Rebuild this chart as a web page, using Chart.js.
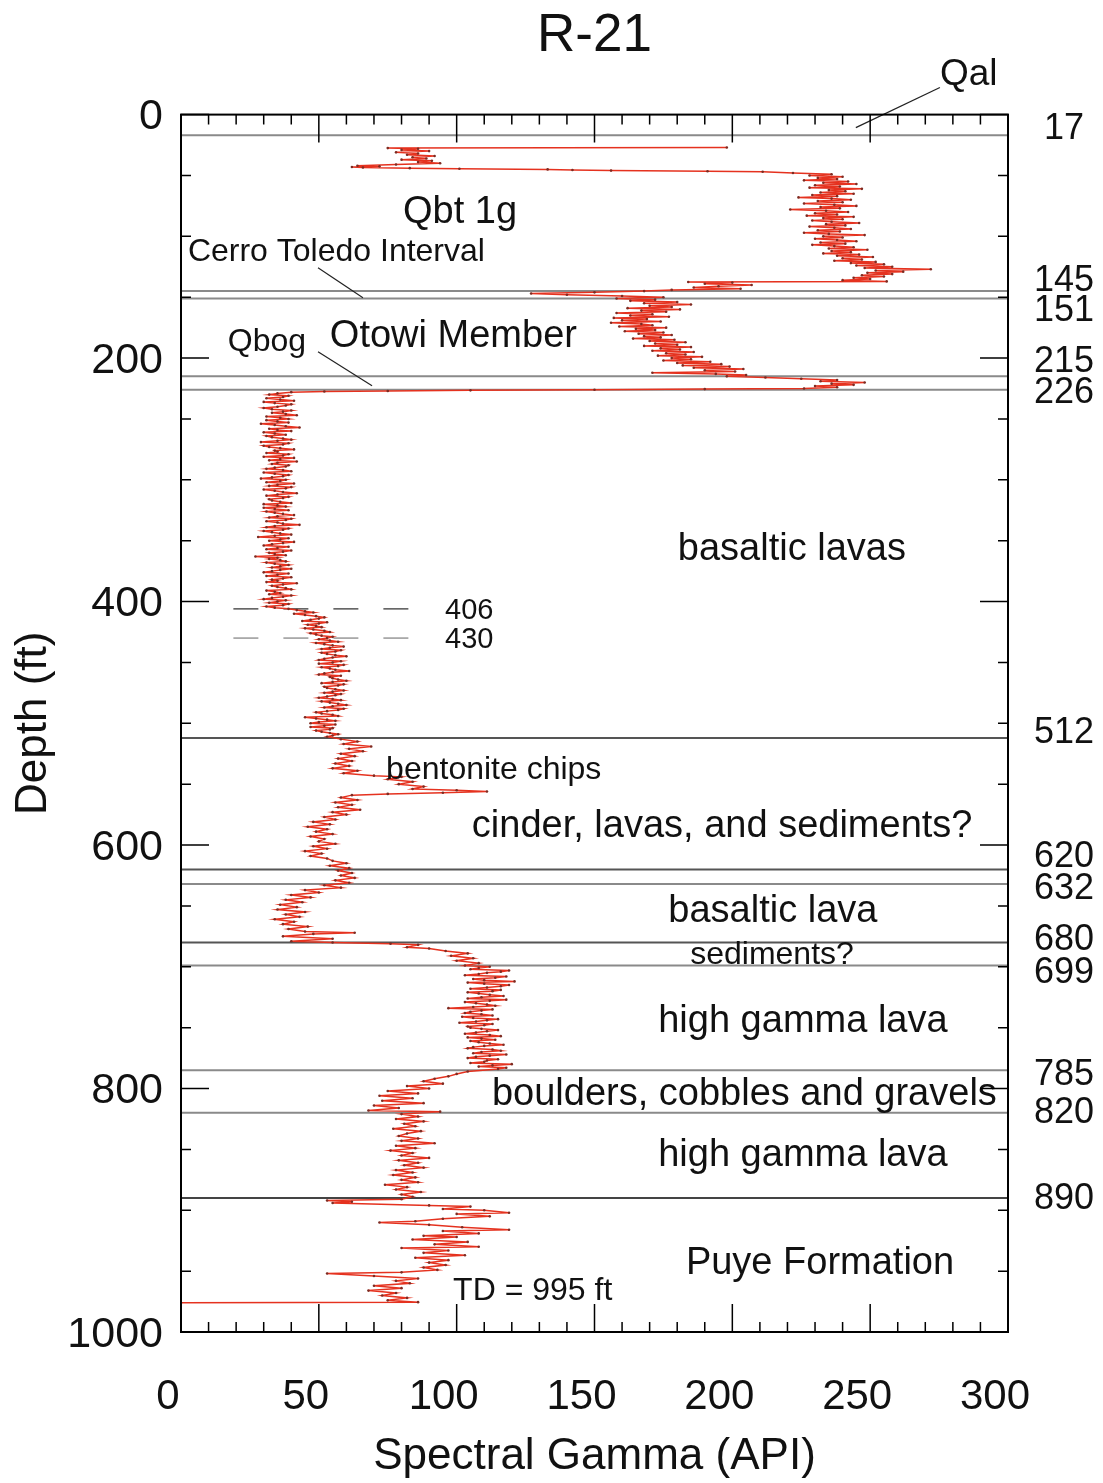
<!DOCTYPE html>
<html>
<head>
<meta charset="utf-8">
<title>R-21</title>
<script src="https://cdn.jsdelivr.net/npm/chart.js@4.4.1/dist/chart.umd.min.js"></script>
<style>
  html, body { margin: 0; padding: 0; background: #ffffff; }
  #wrap { width: 1103px; height: 1483px; }
</style>
</head>
<body>
<div id="wrap"><canvas id="log" width="1103" height="1483"></canvas></div>
<script>
// R-21 spectral gamma log, [depth ft, gamma API]

var logQbtTop = [[27,198],[27.5,75],[28,86],[29,80],[30,90],[31,78],[32,86],[33,82],[34,92],[35,84],
    [36,89],[37,80],[38,91],[39,86],[40,94],[41,78],[42,64],[42.5,72],[43,62],[43.5,66],[44,83],
    [44.5,101],[45,133],[45.5,142],[46,156],[46.5,191],[47,211],[48,222]];

var logQbt1g = [[49,236],[50,228],[51,240],[52,231],[53,238],[54,226],[55,242],[56,233],[57,245],
    [58,230],[59,239],[60,228],[61,247],[62,235],[63,241],[64,232],[65,244],[66,229],[67,238],
    [68,224],[69,236],[70,243],[71,231],[72,240],[73,226],[74,237],[75,245],[76,232],[77,239],
    [78,221],[79,234],[80,242],[81,230],[82,238],[83,227],[84,244],[85,233],[86,240],[87,229],
    [88,236],[89,246],[90,234],[91,241],[92,228],[93,237],[94,243],[95,231],[96,239],[97,226],
    [98,235],[99,248],[100,233],[101,240],[102,230],[103,238],[104,245],[105,232],[106,241],
    [107,229],[108,237],[109,244],[110,235],[111,249],[112,236],[113,243],[114,233],[115,246],
    [116,238],[117,251],[118,240],[119,247],[120,237],[121,252],[122,243],[123,255],[124,245],
    [125,258],[126,248],[127,272],[128,252],[129,262],[130,249],[131,258],[132,247],[133,255],
    [134,244],[135,250],[136,240],[137,256]];

var logCerroToledo = [[137.5,184],[138,200],[139,190],[140,207],[141,195],[142,186],[143,203],
    [144,178],[145,168],[146,150],[147,127],[148,140],[149,160],[150,175],[151,158]];

var logOtowi = [[152,172],[153,163],[154,180],[155,168],[156,185],[157,170],[158,178],[159,162],
    [160,181],[161,167],[162,176],[163,158],[164,171],[165,163],[166,177],[167,157],[168,169],
    [169,160],[170,174],[171,156],[172,167],[173,171],[174,159],[175,176],[176,165],[177,172],
    [178,161],[179,175],[180,166],[181,178],[182,168],[183,174],[184,164],[185,179],[186,170],
    [187,183],[188,172],[189,180],[190,168],[191,185],[192,174],[193,181],[194,171],[195,186],
    [196,176],[197,183],[198,173],[199,189],[200,178],[201,185],[202,175],[203,192],[204,180],
    [205,196],[206,182],[207,199],[208,186],[209,204],[210,190],[211,201],[212,171],[213,194],
    [214,205],[215,198],[216,212],[217,225],[218,238],[219,232],[220,248],[221,236],[222,244],
    [223,230],[224,238],[225,226],[225.5,190],[226,150],[226.5,105],[227,75],[227.5,52],[228,40]];

var logBasalticLavas = [[229,35],[230,32],[231,39],[232,37],[233,31],[234,36],[235,41],[236,30],
    [237,34],[238,40],[239,38],[240,35],[241,30],[242,33],[243,40],[244,37],[245,33],[246,38],
    [247,42],[248,31],[249,36],[250,39],[251,31],[252,35],[253,39],[254,29],[255,34],[256,38],
    [257,43],[258,32],[259,35],[260,40],[261,30],[262,34],[263,38],[264,31],[265,33],[266,37],
    [267,40],[268,35],[269,29],[270,39],[271,37],[272,30],[273,32],[274,36],[275,41],[276,34],
    [277,35],[278,31],[279,39],[280,37],[281,30],[282,41],[283,36],[284,32],[285,42],[286,35],
    [287,33],[288,39],[289,38],[290,34],[291,31],[292,37],[293,40],[294,30],[295,34],[296,39],
    [297,37],[298,33],[299,29],[300,38],[301,36],[302,31],[303,41],[304,35],[305,32],[306,40],
    [307,38],[308,30],[309,34],[310,37],[311,42],[312,35],[313,31],[314,39],[315,37],[316,32],
    [317,33],[318,36],[319,40],[320,30],[321,35],[322,38],[323,30],[324,34],[325,39],[326,31],
    [327,34],[328,37],[329,41],[330,35],[331,32],[332,40],[333,38],[334,31],[335,35],[336,37],
    [337,43],[338,34],[339,31],[340,39],[341,37],[342,30],[343,33],[344,36],[345,40],[346,34],
    [347,28],[348,39],[349,36],[350,32],[351,41],[352,37],[353,33],[354,30],[355,39],[356,35],
    [357,31],[358,40],[359,37],[360,32],[361,34],[362,38],[363,27],[364,35],[365,32],[366,36],
    [367,38],[368,31],[369,34],[370,39],[371,36],[372,33],[373,40],[374,36],[375,33],[376,30],
    [377,39],[378,35],[379,31],[380,40],[381,37],[382,33],[383,35],[384,31],[385,42],[386,37],
    [387,33],[388,35],[389,38],[390,40],[391,31],[392,34],[393,36],[394,32],[395,40],[396,37],
    [397,33],[398,30],[399,38],[400,35],[401,32],[402,39],[403,37],[404,31],[405,34],[406,39]];

var logLowerLavas = [[407,42],[408,45],[409,48],[410,41],[411,45],[412,49],[413,52],[414,50],
    [415,47],[416,44],[417,53],[418,50],[419,46],[420,49],[421,51],[422,45],[423,48],[424,52],
    [425,54],[426,47],[427,49],[428,51],[429,55],[430,53],[431,50],[432,54],[433,57],[434,49],
    [435,52],[436,55],[437,59],[438,54],[439,51],[440,58],[441,56],[442,51],[443,53],[444,56],
    [445,60],[446,55],[447,52],[448,50],[449,58],[450,55],[451,50],[452,59],[453,57],[454,51],
    [455,54],[456,56],[457,61],[458,55],[459,52],[460,50],[461,58],[462,54],[463,55],[464,57],
    [465,60],[466,55],[467,51],[468,59],[469,57],[470,52],[471,53],[472,56],[473,59],[474,55],
    [475,52],[476,58],[477,56],[478,53],[479,50],[480,55],[481,58],[482,51],[483,54],[484,57],
    [485,60],[486,55],[487,52],[488,59],[489,57],[490,53],[491,49],[492,51],[493,55],[494,57],
    [495,45],[496,49],[497,53],[498,56],[499,50],[500,47],[501,56],[502,52],[503,47],[504,55],
    [505,54],[506,49],[507,51],[508,54],[509,57],[510,55],[511,53]];

var logCinder = [[513,58],[515,64],[517,59],[519,69],[521,61],[523,66],[525,58],[527,63],[529,57],
    [531,62],[533,56],[535,61],[537,55],[539,64],[541,59],[543,70],[544,80],[546,75],[548,84],
    [550,79],[552,88],[554,84],[555,100],[556,111],[557,95],[558,75],[559,62],[561,58],[563,64],
    [565,56],[567,62],[569,57],[571,65],[573,55],[575,60],[577,52],[579,56],[581,48],[583,54],
    [585,46],[587,53],[589,49],[591,55],[593,47],[595,52],[597,50],[599,56],[601,48],[603,53],
    [605,45],[607,51],[609,47],[611,53],[613,55],[615,60],[617,54],[619,61],[621,57],[623,62],
    [625,58],[627,63],[629,56],[631,61]];

var logBasalticLava = [[633,52],[635,58],[637,45],[639,50],[641,40],[643,47],[645,38],[647,44],
    [649,36],[651,42],[653,35],[655,45],[657,38],[659,43],[661,34],[663,41],[665,37],[667,46],
    [669,39],[671,45],[672,63],[673,48],[675,37],[677,55],[679,40],[680,55],[681,76],[682,86],
    [684,82],[685,90],[687,96],[689,104],[691,98],[693,106],[695,100],[697,108],[699,103]];

var logHighGamma1 = [[700,112],[701,108],[702,105],[703,119],[704,116],[705,111],[706,108],
    [707,103],[708,118],[709,114],[710,106],[711,110],[712,121],[713,104],[714,110],[715,119],
    [716,116],[717,111],[718,105],[719,116],[720,113],[721,104],[722,108],[723,112],[724,117],
    [725,109],[726,104],[727,118],[728,112],[729,103],[730,107],[731,111],[732,114],[733,106],
    [734,97],[735,113],[736,109],[737,105],[738,103],[739,109],[740,113],[741,102],[742,106],
    [743,115],[744,111],[745,107],[746,101],[747,113],[748,110],[749,104],[750,105],[751,109],
    [752,115],[753,111],[754,107],[755,103],[756,112],[757,116],[758,104],[759,109],[760,114],
    [761,105],[762,108],[763,112],[764,117],[765,110],[766,106],[767,104],[768,113],[769,116],
    [770,109],[771,106],[772,118],[773,112],[774,107],[775,104],[776,115],[777,111],[778,110],
    [779,105],[780,120],[781,113],[782,108],[783,118],[784,115]];

var logBoulders = [[786,104],[788,100],[790,97],[792,92],[794,88],[796,95],[798,82],[800,90],
    [802,75],[804,86],[806,72],[808,84],[810,73],[812,88],[814,70],[816,79],[818,68],[819,94]];

var logHighGamma2 = [[821,80],[823,86],[825,78],[827,88],[829,81],[831,85],[833,77],[835,87],
    [837,82],[839,79],[841,86],[843,80],[845,92],[847,78],[849,85],[851,76],[853,84],[855,80],
    [857,90],[859,79],[861,86],[863,81],[865,88],[867,78],[869,84],[871,77],[873,85],[875,80],
    [877,86],[879,74],[881,82],[883,78],[885,87],[887,80],[889,84]];

var logPuye = [[891,80],[892,53],[893,62],[894,55],[896,90],[897,105],[899,95],[900,110],[902,119],
    [903,100],[905,112],[907,95],[909,85],[910,72],[912,90],[914,102],[916,119],[917,95],[919,108],
    [921,88],[922,100],[924,84],[926,104],[928,92],[930,108],[931,80],[933,97],[935,88],[937,103],
    [939,85],[941,97],[943,90],[945,96],[947,88],[949,93],[951,80],[952,53],[954,70],[956,86],
    [958,78],[960,83],[962,70],[964,80],[966,68],[968,78],[970,73],[972,82],[974,75],[975.5,86],
    [976,0]];

// contacts (ft) and where their numbers sit on the right
var contactDepths = [17, 145, 151, 215, 226, 512, 620, 632, 680, 699, 785, 820, 890];
var contactLabelDepths = [12, 136.5, 161, 203, 229, 508, 610, 636, 678, 705, 789, 820, 891];
var contactShades = ['#8a8a8a', '#8a8a8a', '#8a8a8a', '#8a8a8a', '#8a8a8a', '#555555', '#555555',
    '#8a8a8a', '#555555', '#8a8a8a', '#8a8a8a', '#8a8a8a', '#444444'];
var markerDepths = [406, 430];
var markerShades = ['#555555', '#999999'];

var FONT = "'Liberation Sans', Arial, Helvetica, sans-serif";

var allLog = [].concat(logQbtTop, logQbt1g, logCerroToledo, logOtowi, logBasalticLavas, logLowerLavas,
    logCinder, logBasalticLava, logHighGamma1, logBoulders, logHighGamma2, logPuye);
var points = allLog.map(function (p) { return { x: p[1], y: p[0] }; });

// text notes, placed in data units [API, depth]
var notes = [
    { t: 'Qal', x: 275.3, y: -32.9, s: 37, a: 'left' },
    { t: 'Qbt 1g', x: 101.2, y: 80.6, s: 38, a: 'center' },
    { t: 'Cerro Toledo Interval', x: 2.5, y: 113.4, s: 32, a: 'left' },
    { t: 'Qbog', x: 17, y: 186.6, s: 32, a: 'left' },
    { t: 'Otowi Member', x: 54, y: 182.5, s: 38, a: 'left' },
    { t: 'basaltic lavas', x: 221.6, y: 357.6, s: 38, a: 'center' },
    { t: '406', x: 95.8, y: 407.7, s: 29, a: 'left' },
    { t: '430', x: 95.8, y: 431.6, s: 29, a: 'left' },
    { t: 'bentonite chips', x: 74.4, y: 538.4, s: 32, a: 'left' },
    { t: 'cinder, lavas, and sediments?', x: 105.5, y: 584.5, s: 38, a: 'left' },
    { t: 'basaltic lava', x: 214.7, y: 654.3, s: 38, a: 'center' },
    { t: 'sediments?', x: 214.4, y: 690.5, s: 32, a: 'center' },
    { t: 'high gamma lava', x: 225.6, y: 744.8, s: 38, a: 'center' },
    { t: 'boulders, cobbles and gravels', x: 112.8, y: 804.8, s: 38, a: 'left' },
    { t: 'high gamma lava', x: 225.6, y: 854.9, s: 38, a: 'center' },
    { t: 'Puye Formation', x: 231.8, y: 943.7, s: 38, a: 'center' },
    { t: 'TD = 995 ft', x: 98.7, y: 966.7, s: 32, a: 'left' }
];
var leaders = [
    [275.3, -22.2, 244.8, 10.7],
    [49.7, 125.8, 66.0, 150.4],
    [49.7, 194.8, 69.3, 222.7]
];

var logDecor = {
    id: 'logDecor',
    beforeDatasetsDraw: function (chart) {
        var ctx = chart.ctx, a = chart.chartArea, y = chart.scales.y, x = chart.scales.x;
        ctx.save();
        ctx.lineWidth = 2;
        for (var i = 0; i < contactDepths.length; i++) {
            var yy = y.getPixelForValue(contactDepths[i]);
            ctx.strokeStyle = contactShades[i];
            ctx.beginPath();
            ctx.moveTo(a.left, yy);
            ctx.lineTo(a.right, yy);
            ctx.stroke();
        }
        ctx.setLineDash([25, 25]);
        ctx.lineWidth = 1.5;
        for (var j = 0; j < markerDepths.length; j++) {
            var ym = y.getPixelForValue(markerDepths[j]);
            ctx.strokeStyle = markerShades[j];
            ctx.beginPath();
            ctx.moveTo(x.getPixelForValue(19), ym);
            ctx.lineTo(x.getPixelForValue(85), ym);
            ctx.stroke();
        }
        ctx.restore();
    },
    afterDatasetsDraw: function (chart) {
        var ctx = chart.ctx, a = chart.chartArea, x = chart.scales.x, y = chart.scales.y;
        ctx.save();
        ctx.fillStyle = '#111111';
        ctx.textBaseline = 'middle';
        notes.forEach(function (n) {
            ctx.font = n.s + 'px ' + FONT;
            ctx.textAlign = n.a;
            ctx.fillText(n.t, x.getPixelForValue(n.x), y.getPixelForValue(n.y));
        });
        ctx.strokeStyle = '#222222';
        ctx.lineWidth = 1.2;
        leaders.forEach(function (l) {
            ctx.beginPath();
            ctx.moveTo(x.getPixelForValue(l[0]), y.getPixelForValue(l[1]));
            ctx.lineTo(x.getPixelForValue(l[2]), y.getPixelForValue(l[3]));
            ctx.stroke();
        });
        // contact depths at the right edge
        ctx.font = '36px ' + FONT;
        ctx.textAlign = 'center';
        for (var i = 0; i < contactDepths.length; i++) {
            ctx.fillText(String(contactDepths[i]), a.right + 56, y.getPixelForValue(contactLabelDepths[i]));
        }

        // frame with inward ticks on all four sides
        ctx.strokeStyle = '#000000';
        ctx.lineWidth = 2;
        ctx.strokeRect(a.left, a.top, a.right - a.left, a.bottom - a.top);
        ctx.lineWidth = 1.5;
        ctx.beginPath();
        for (var g = 0; g <= 300; g += 10) {
            var px = x.getPixelForValue(g);
            var len = g % 50 === 0 ? 28 : 10;
            ctx.moveTo(px, a.bottom); ctx.lineTo(px, a.bottom - len);
            ctx.moveTo(px, a.top); ctx.lineTo(px, a.top + len);
        }
        for (var d = 0; d <= 1000; d += 50) {
            var py = y.getPixelForValue(d);
            var ln = d % 200 === 0 ? 28 : 10;
            ctx.moveTo(a.left, py); ctx.lineTo(a.left + ln, py);
            ctx.moveTo(a.right, py); ctx.lineTo(a.right - ln, py);
        }
        ctx.stroke();
        ctx.restore();
    }
};

new Chart(document.getElementById('log').getContext('2d'), {
    type: 'scatter',
    data: {
        datasets: [{
            label: 'Spectral Gamma',
            data: points,
            showLine: true,
            borderColor: '#e5321f',
            borderWidth: 1.5,
            pointRadius: 1.3,
            pointBackgroundColor: '#7d2b22',
            pointBorderWidth: 0,
            tension: 0
        }]
    },
    plugins: [logDecor],
    options: {
        responsive: false,
        animation: false,
        devicePixelRatio: 1,
        layout: { padding: { top: 0, right: 95, left: 0, bottom: 0 } },
        plugins: {
            legend: { display: false },
            tooltip: { enabled: false },
            title: {
                display: true,
                fullSize: false,
                text: 'R-21',
                color: '#111111',
                font: { size: 53, family: FONT, weight: 'normal', lineHeight: 1.2 },
                padding: { top: 5, bottom: 46 }
            }
        },
        scales: {
            x: {
                type: 'linear',
                position: 'bottom',
                min: 0,
                max: 300,
                ticks: {
                    stepSize: 50,
                    color: '#111111',
                    font: { size: 42, family: FONT },
                    padding: 40,
                    labelOffset: -13,
                    maxRotation: 0,
                    callback: function (v) { return String(v); }
                },
                grid: { display: false, drawTicks: false },
                border: { display: false },
                title: {
                    display: true,
                    text: 'Spectral Gamma (API)',
                    color: '#111111',
                    font: { size: 44, family: FONT, lineHeight: 1.2 },
                    padding: { top: 0, bottom: 0 }
                },
                afterFit: function (s) { s.height = 151; }
            },
            y: {
                type: 'linear',
                position: 'left',
                reverse: true,
                min: 0,
                max: 1000,
                ticks: {
                    stepSize: 200,
                    color: '#111111',
                    font: { size: 43, family: FONT },
                    padding: 18,
                    labelOffset: 3,
                    callback: function (v) { return String(v); }
                },
                grid: { display: false, drawTicks: false },
                border: { display: false },
                title: {
                    display: true,
                    text: 'Depth (ft)',
                    color: '#111111',
                    font: { size: 44, family: FONT, lineHeight: 1.2 },
                    padding: { top: 7, bottom: 0 }
                },
                afterFit: function (s) { s.width = 181; }
            }
        }
    }
});
</script>
</body>
</html>
